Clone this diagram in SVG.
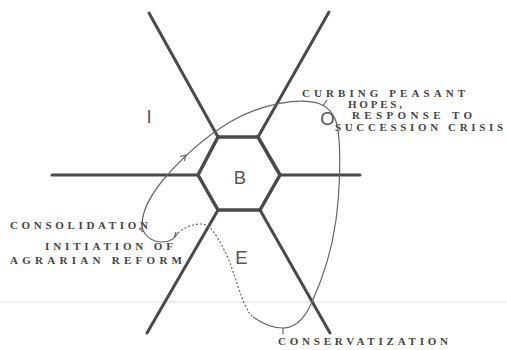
<svg xmlns="http://www.w3.org/2000/svg" width="507" height="350" viewBox="0 0 507 350">
<style>
.ax{stroke:#4a4a4a;stroke-width:3;fill:none;stroke-linecap:round}
.hex{stroke:#4a4a4a;stroke-width:3.5;fill:none;stroke-linejoin:round}
.cv{stroke:#666;stroke-width:1.2;fill:none}
.dot{stroke:#666;stroke-width:1.2;fill:none;stroke-dasharray:2 2}
.lb{font-family:"Liberation Serif",serif;font-weight:bold;font-size:11px;fill:#444}
.rg{font-family:"Liberation Sans",sans-serif;font-size:18.5px;fill:#555}
</style>
<rect width="507" height="350" fill="#fff"/>
<line x1="0" y1="302" x2="507" y2="302" stroke="#e2e2e2" stroke-width="1"/>
<g id="axes">
<line class="ax" x1="52" y1="175" x2="198" y2="175"/>
<line class="ax" x1="280" y1="175" x2="360" y2="175"/>
<line class="ax" x1="149" y1="13" x2="218" y2="137"/>
<line class="ax" x1="329" y1="12" x2="258" y2="137"/>
<line class="ax" x1="218" y1="210" x2="147" y2="333"/>
<line class="ax" x1="260" y1="210" x2="330" y2="333"/>
</g>
<g id="B">
<polygon class="hex" points="218,137 258,137 280,175 260,210 218,210 198,175"/>
<text class="rg" x="240" y="183.5" text-anchor="middle">B</text>
</g>
<g id="I"><text class="rg" x="149" y="123" text-anchor="middle">I</text></g>
<g id="O"><text class="rg" x="327.5" y="124.5" text-anchor="middle">O</text></g>
<g id="E"><text class="rg" x="241.5" y="263.5" text-anchor="middle">E</text></g>
<g id="connectors">
<path class="cv" d="M253,317 C260,322 272,328 283,328 C295,328 305,318 312,302 C322,280 332,250 336,220 C340,190 341,150 338,130 C336,116 330,108 320,104 C300,97 260,104 230,122 C205,137 180,160 163,180 C150,196 142,212 142,225 C143,236 152,242 163,242 C170,242 175,238 178,233"/>
<path class="dot" d="M178,233 C186,226 198,222 206,225 C214,229 222,245 228,258 C235,275 240,295 245,305 C248,311 250,315 253,317"/>
<path class="cv" d="M180.2,156.6 L186,155 L184.4,160.8"/>
<path class="cv" d="M323,106 L327,100"/>
<path class="cv" d="M139,228 L143,232"/>
<path class="cv" d="M174,238 L176,232"/>
<path class="cv" d="M283,328 L283,334"/>
</g>
<g id="labels">
<text class="lb" x="302" y="96.5" textLength="163" lengthAdjust="spacing">CURBING PEASANT</text>
<text class="lb" x="348" y="107.5" textLength="54" lengthAdjust="spacing">HOPES,</text>
<text class="lb" x="352" y="119" textLength="120" lengthAdjust="spacing">RESPONSE TO</text>
<text class="lb" x="335" y="131" textLength="168" lengthAdjust="spacing">SUCCESSION CRISIS</text>
<text class="lb" x="10" y="228.5" textLength="138" lengthAdjust="spacing">CONSOLIDATION</text>
<text class="lb" x="45" y="249.5" textLength="128" lengthAdjust="spacing">INITIATION OF</text>
<text class="lb" x="10" y="264" textLength="172" lengthAdjust="spacing">AGRARIAN REFORM</text>
<text class="lb" x="278" y="345" textLength="170" lengthAdjust="spacing">CONSERVATIZATION</text>
</g>
</svg>
